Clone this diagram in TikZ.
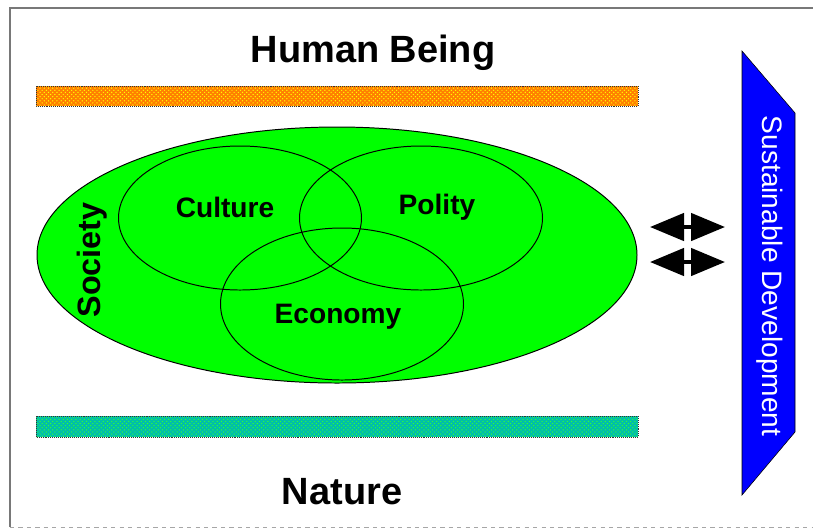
\documentclass[tikz,border=0pt]{standalone}
\usepackage{fontspec}
\setmainfont{Liberation Sans}
\usepackage{xcolor}
\usetikzlibrary{arrows.meta}
\usetikzlibrary{shapes.geometric}
\usetikzlibrary{patterns}

\definecolor{barorange}{RGB}{255,128,0}
\definecolor{barteal}{RGB}{0,190,170}
\definecolor{socgreen}{RGB}{0,255,0}
\definecolor{sdblue}{RGB}{0,0,255}
\definecolor{framegray}{RGB}{120,120,120}

\begin{document}
\begin{tikzpicture}[x=0.025cm, y=-0.025cm,
        bar/.style={draw=black!80, densely dotted, thin},
        blob/.style={ellipse, draw=black, line width=0.7pt, inner sep=0pt},
        sphere/.style={ellipse, draw=black, line width=0.7pt, inner sep=0pt, minimum width=243*0.025cm},
        big/.style={font=\fontsize{27}{30}\selectfont\bfseries, inner sep=0pt},
        lbl/.style={font=\fontsize{20}{24}\selectfont\bfseries, inner sep=0pt},
        dbl/.style={line width=4*0.025cm, {Triangle[length=0.85cm, width=0.68cm]}-{Triangle[length=0.85cm, width=0.68cm]}}
      ]
  \useasboundingbox (0,0) rectangle (813,529);

  % frame
  \draw[framegray, line width=1.5pt] (10,527) -- (10,8) -- (813,8);
  \draw[black!35, dashed] (10,527) -- (813,527);

  % bars
  \fill[barorange] (36,86) rectangle (638,106);
  \fill[pattern=crosshatch dots, pattern color=yellow] (36,86) rectangle (638,106);
  \draw[bar] (36,86) rectangle (638,106);
  \fill[barteal] (36,416) rectangle (638,437);
  \fill[pattern=crosshatch dots, pattern color=green!80] (36,416) rectangle (638,437);
  \draw[bar] (36,416) rectangle (638,437);

  \node[big] (human) at (373,53) {Human Being};
  \node[big] (nature) at (342,492) {Nature};

  % society
  \node[blob, fill=socgreen, minimum width=600*0.025cm, minimum height=256*0.025cm] (society) at (337,255) {};
  \node[sphere, minimum height=144*0.025cm] (cul) at (240,218) {};
  \node[sphere, minimum height=144*0.025cm] (pol) at (421,218) {};
  \node[sphere, minimum height=152*0.025cm] (eco) at (342,304) {};
  \node[lbl] (culture) at (225,207) {Culture};
  \node[lbl] (polity) at (437,207) {Polity};
  \node[lbl] (economy) at (338,317) {Economy};
  \node[lbl, font=\fontsize{23}{26}\selectfont\bfseries, rotate=90] (soc) at (92,260) {Society};

  % sustainable development
  \coordinate (s1) at (742,51);
  \coordinate (s2) at (795,113);
  \coordinate (s3) at (795,432);
  \coordinate (s4) at (742,495);
  \fill[sdblue, draw=black, thin] (s1) -- (s2) -- (s3) -- (s4) -- cycle;
  \node[font=\fontsize{20}{24}\selectfont, text=white, rotate=-90, inner sep=0pt] (sd) at (770,276) {Sustainable Development};

  % arrows
  \coordinate (a1) at (650,227);
  \coordinate (b1) at (725,227);
  \coordinate (a2) at (650,262);
  \coordinate (b2) at (725,262);
  \draw[dbl] (a1) -- (b1);
  \draw[dbl] (a2) -- (b2);

\end{tikzpicture}
\end{document}
